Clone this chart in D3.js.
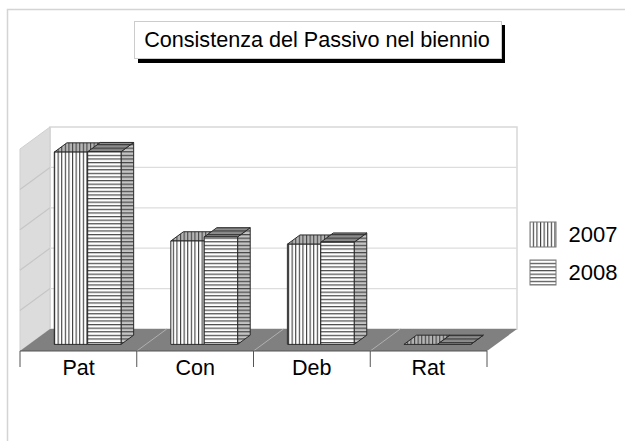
<!DOCTYPE html>
<html>
<head>
<meta charset="utf-8">
<script src="https://d3js.org/d3.v7.min.js"></script>
<style>
  body { margin: 0; background: #fff; }
  text { font-family: "Liberation Sans", Arial, sans-serif; fill: #000; }
</style>
</head>
<body>
<svg id="chart" width="625" height="441"></svg>
<script>
const categories = ['Pat', 'Con', 'Deb', 'Rat'];
const years = ['2007', '2008'];
const values2007 = [4.76, 2.56, 2.48, 0];
const values2008 = [4.77, 2.66, 2.53, 0];
const valueTicks = [0, 1, 2, 3, 4, 5];
const titleText = 'Consistenza del Passivo nel biennio';

const svg = d3.select('#chart');
const defs = svg.append('defs');

// front edge of the floor, the rest is sheared back from it
const xStart = 20, xEnd = 487;
const x = d3.scaleBand().domain(categories).range([xStart, xEnd]).paddingInner(0.427).paddingOuter(0.217);
const xSeries = d3.scaleBand().domain(years).range([0, x.bandwidth()]);
const y = d3.scaleLinear().domain([0, 5]).range([351, 149]);
const depth_x = 30, depth_y = 22;
const bar_near = 0.3, bar_far = 0.72;

function pt(px, v, d) {
  return [px + depth_x * d, y(v) - depth_y * d];
}
function poly(points) {
  return 'M' + points.map(p => p.join(',')).join('L') + 'Z';
}

function stripes(id, vertical, bg, line, period, weight) {
  const p = defs.append('pattern').attr('id', id)
    .attr('patternUnits', 'userSpaceOnUse')
    .attr('width', vertical ? period : 8).attr('height', vertical ? 8 : period);
  p.append('rect').attr('width', 8).attr('height', 8).attr('fill', bg);
  p.append('rect')
    .attr('width', vertical ? weight : 8).attr('height', vertical ? 8 : weight)
    .attr('fill', line);
}
stripes('v-front', true, '#fff', '#3a3a3a', 3.6, 1.1);
stripes('v-top', true, '#b4b4b4', '#444', 3.6, 1.1);
stripes('v-side', true, '#bbb', '#444', 3.6, 1.1);
stripes('h-front', false, '#fff', '#4a4a4a', 3.6, 1.2);
stripes('h-top', false, '#8c8c8c', '#3a3a3a', 3.6, 1.2);
stripes('h-side', false, '#c4c4c4', '#444', 3.6, 1.2);

// frame
svg.append('path').attr('d', 'M7.5,441V9.5H625').attr('fill', 'none').attr('stroke', '#d4d4d4').attr('stroke-width', 1.5);

// walls and floor
svg.append('path').attr('d', poly([pt(xStart, 0, 1), pt(xEnd, 0, 1), pt(xEnd, 5, 1), pt(xStart, 5, 1)]))
  .attr('fill', '#fff').attr('stroke', '#d8d8d8').attr('stroke-width', 1.5);
svg.append('path').attr('d', poly([pt(xStart, 0, 0), pt(xStart, 0, 1), pt(xStart, 5, 1), pt(xStart, 5, 0)]))
  .attr('fill', '#dcdcdc').attr('stroke', '#cfcfcf');
svg.append('path').attr('d', poly([pt(xStart, 0, 0), pt(xEnd, 0, 0), pt(xEnd, 0, 1), pt(xStart, 0, 1)]))
  .attr('fill', '#808080');

// gridlines on both walls
valueTicks.slice(1, -1).forEach(t => {
  svg.append('path')
    .attr('d', 'M' + pt(xStart, t, 0) + 'L' + pt(xStart, t, 1))
    .attr('fill', 'none').attr('stroke', '#c6c6c6').attr('stroke-width', 1.2);
  svg.append('path')
    .attr('d', 'M' + pt(xStart, t, 1) + 'L' + pt(xEnd, t, 1))
    .attr('fill', 'none').attr('stroke', '#ddd').attr('stroke-width', 1.2);
});

// category dividers on the floor and ticks below it
const step = (xEnd - xStart) / categories.length;
const dividers = d3.range(categories.length + 1).map(i => xStart + i * step);
dividers.forEach((dx, i) => {
  if (i > 0 && i < categories.length) {
    svg.append('path').attr('d', 'M' + pt(dx, 0, 0) + 'L' + pt(dx, 0, 1))
      .attr('stroke', '#b0b0b0').attr('fill', 'none');
  }
  svg.append('line').attr('x1', dx).attr('x2', dx).attr('y1', y(0)).attr('y2', y(0) + 16)
    .attr('stroke', '#555');
});
svg.append('line').attr('x1', xStart).attr('x2', xEnd).attr('y1', y(0)).attr('y2', y(0)).attr('stroke', '#555');

// bars, back faces first so the 2008 block sits over the 2007 side
function drawBar(cat, year, value) {
  const p = year === '2007' ? 'v' : 'h';
  const l = x(cat) + xSeries(year);
  const r = l + xSeries.bandwidth();
  const g = svg.append('g').attr('stroke', '#2a2a2a').attr('stroke-width', 1).attr('stroke-linejoin', 'round');
  g.append('path').attr('d', poly([pt(r, 0, bar_near), pt(r, 0, bar_far), pt(r, value, bar_far), pt(r, value, bar_near)]))
    .attr('fill', `url(#${p}-side)`);
  g.append('path').attr('d', poly([pt(l, value, bar_near), pt(r, value, bar_near), pt(r, value, bar_far), pt(l, value, bar_far)]))
    .attr('fill', `url(#${p}-top)`);
  if (value > 0) {
    g.append('path').attr('d', poly([pt(l, 0, bar_near), pt(r, 0, bar_near), pt(r, value, bar_near), pt(l, value, bar_near)]))
      .attr('fill', `url(#${p}-front)`);
  }
}
categories.forEach((c, i) => {
  drawBar(c, '2007', values2007[i]);
  drawBar(c, '2008', values2008[i]);
});

// category labels
svg.selectAll('.cat').data(categories).join('text')
  .attr('class', 'cat')
  .attr('x', c => x(c) + x.bandwidth() / 2)
  .attr('y', 375)
  .attr('text-anchor', 'middle')
  .attr('font-size', 21.5)
  .text(c => c);

// title with its drop shadow
svg.append('rect').attr('x', 138).attr('y', 25).attr('width', 367).attr('height', 38).attr('fill', '#000');
svg.append('rect').attr('x', 134.5).attr('y', 21.5).attr('width', 367).attr('height', 37)
  .attr('fill', '#fff').attr('stroke', '#ccc');
svg.append('text').attr('x', 317).attr('y', 47).attr('text-anchor', 'middle')
  .attr('font-size', 21.6).text(titleText);

// legend
const legendY = d3.scalePoint().domain(years).range([222, 260]);
years.forEach(yr => {
  svg.append('rect').attr('x', 530).attr('y', legendY(yr)).attr('width', 26).attr('height', 25)
    .attr('fill', `url(#${yr === '2007' ? 'v' : 'h'}-front)`).attr('stroke', '#777');
  svg.append('text').attr('x', 568.5).attr('y', legendY(yr) + 20).attr('font-size', 22).text(yr);
});
</script>
</body>
</html>
